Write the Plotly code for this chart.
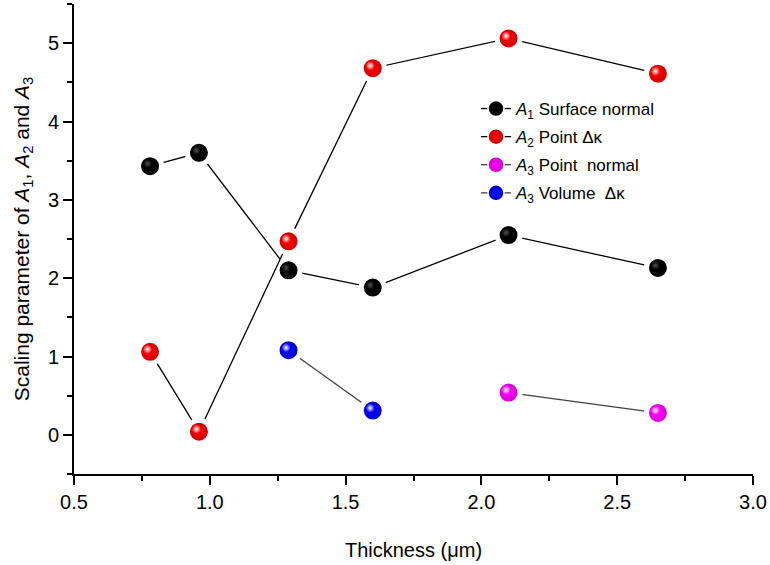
import plotly.graph_objects as go

# Film thickness (µm) and fitted scaling parameters
thickness = [0.78, 0.96, 1.29, 1.60, 2.10, 2.65]
a1_surface_normal = [3.43, 3.60, 2.10, 1.88, 2.55, 2.13]
a2_point_dk = [1.06, 0.04, 2.47, 4.68, 5.06, 4.61]

thickness_a3_point = [2.10, 2.65]
a3_point_normal = [0.54, 0.28]

thickness_a3_volume = [1.29, 1.60]
a3_volume_dk = [1.08, 0.31]

series_names = [
    "<i>A</i><sub>1</sub> Surface normal",
    "<i>A</i><sub>2</sub> Point \u0394\u03ba",
    "<i>A</i><sub>3</sub> Point \u00a0normal",
    "<i>A</i><sub>3</sub> Volume \u00a0\u0394\u03ba",
]

FONT = "Liberation Sans, Arial, sans-serif"
W, H = 770, 565
M = dict(l=74, r=17, t=4, b=91)
XR = [0.5, 3.0]
YR = [-0.5, 5.5]

# pixel -> data conversion, used to place the specular highlight on each ball
px_x = (XR[1] - XR[0]) / (W - M["l"] - M["r"])
px_y = (YR[1] - YR[0]) / (H - M["t"] - M["b"])
HL_DX, HL_DY = -2.5 * px_x, 2.5 * px_y

# (x, y, ball colour, rim colour, highlight colour, line colour)
series = [
    (thickness, a1_surface_normal, "#000000", "#000000", "#505050", "#000000"),
    (thickness, a2_point_dk, "#ff0000", "#c00000", "#ffffff", "#000000"),
    (thickness_a3_point, a3_point_normal, "#ff00ff", "#cc00cc", "#ffffff", "#404040"),
    (thickness_a3_volume, a3_volume_dk, "#0000ff", "#0000bb", "#ffffff", "#404040"),
]

fig = go.Figure()

# connecting lines and balls; the white rim leaves a small gap where lines meet a ball
for (xs, ys, base, edge, hl, lc) in series:
    fig.add_trace(go.Scatter(
        x=xs, y=ys, mode="lines+markers", showlegend=False,
        line=dict(color=lc, width=1.3),
        marker=dict(size=23, color=edge,
                    gradient=dict(type="radial", color=base),
                    line=dict(color="white", width=5)),
    ))

# glossy highlight on each ball
for (xs, ys, base, edge, hl, lc) in series:
    fig.add_trace(go.Scatter(
        x=[v + HL_DX for v in xs], y=[v + HL_DY for v in ys],
        mode="markers", showlegend=False, hoverinfo="skip",
        marker=dict(size=9, color=base,
                    gradient=dict(type="radial", color=hl),
                    line=dict(width=0)),
    ))

# legend entries
for i, ((xs, ys, base, edge, hl, lc), name) in enumerate(zip(series, series_names)):
    fig.add_trace(go.Scatter(
        x=[None], y=[None], mode="lines+markers", name=name,
        legendgroup=f"g{i}",
        line=dict(color=lc, width=1.3),
        marker=dict(size=16, color=edge,
                    gradient=dict(type="radial", color=base),
                    line=dict(color="white", width=1.5)),
    ))

axis_common = dict(
    showline=True, linecolor="black", linewidth=2,
    ticks="outside", ticklen=9, tickwidth=1.5, tickcolor="black",
    showgrid=False, zeroline=False,
    tickfont=dict(family=FONT, size=20, color="black"),
)

fig.update_xaxes(
    range=XR, dtick=0.5, tick0=0.5, tickformat=".1f",
    minor=dict(dtick=0.25, ticks="outside", ticklen=5, tickwidth=1.5, tickcolor="black"),
    title=dict(text="Thickness (\u03bcm)", font=dict(family=FONT, size=20, color="black"), standoff=31),
    **axis_common,
)
fig.update_yaxes(
    range=YR, dtick=1, tick0=0,
    minor=dict(dtick=0.5, ticks="outside", ticklen=5, tickwidth=1.5, tickcolor="black"),
    title=dict(text="Scaling parameter of <i>A</i><sub>1</sub>, <i>A</i><sub>2</sub> and <i>A</i><sub>3</sub>",
               font=dict(family=FONT, size=21, color="black"), standoff=13),
    **axis_common,
)

fig.update_layout(
    width=W, height=H, margin=M,
    paper_bgcolor="white", plot_bgcolor="white",
    font=dict(family=FONT, color="black"),
    showlegend=True,
    legend=dict(
        x=(476 - M["l"]) / (W - M["l"] - M["r"]),
        y=1 - (91 - M["t"]) / (H - M["t"] - M["b"]),
        xanchor="left", yanchor="top",
        bgcolor="rgba(0,0,0,0)", borderwidth=0,
        font=dict(family=FONT, size=17, color="black"),
        traceorder="grouped", tracegroupgap=3,
        itemsizing="trace",
    ),
)

fig.write_html("out.html")
